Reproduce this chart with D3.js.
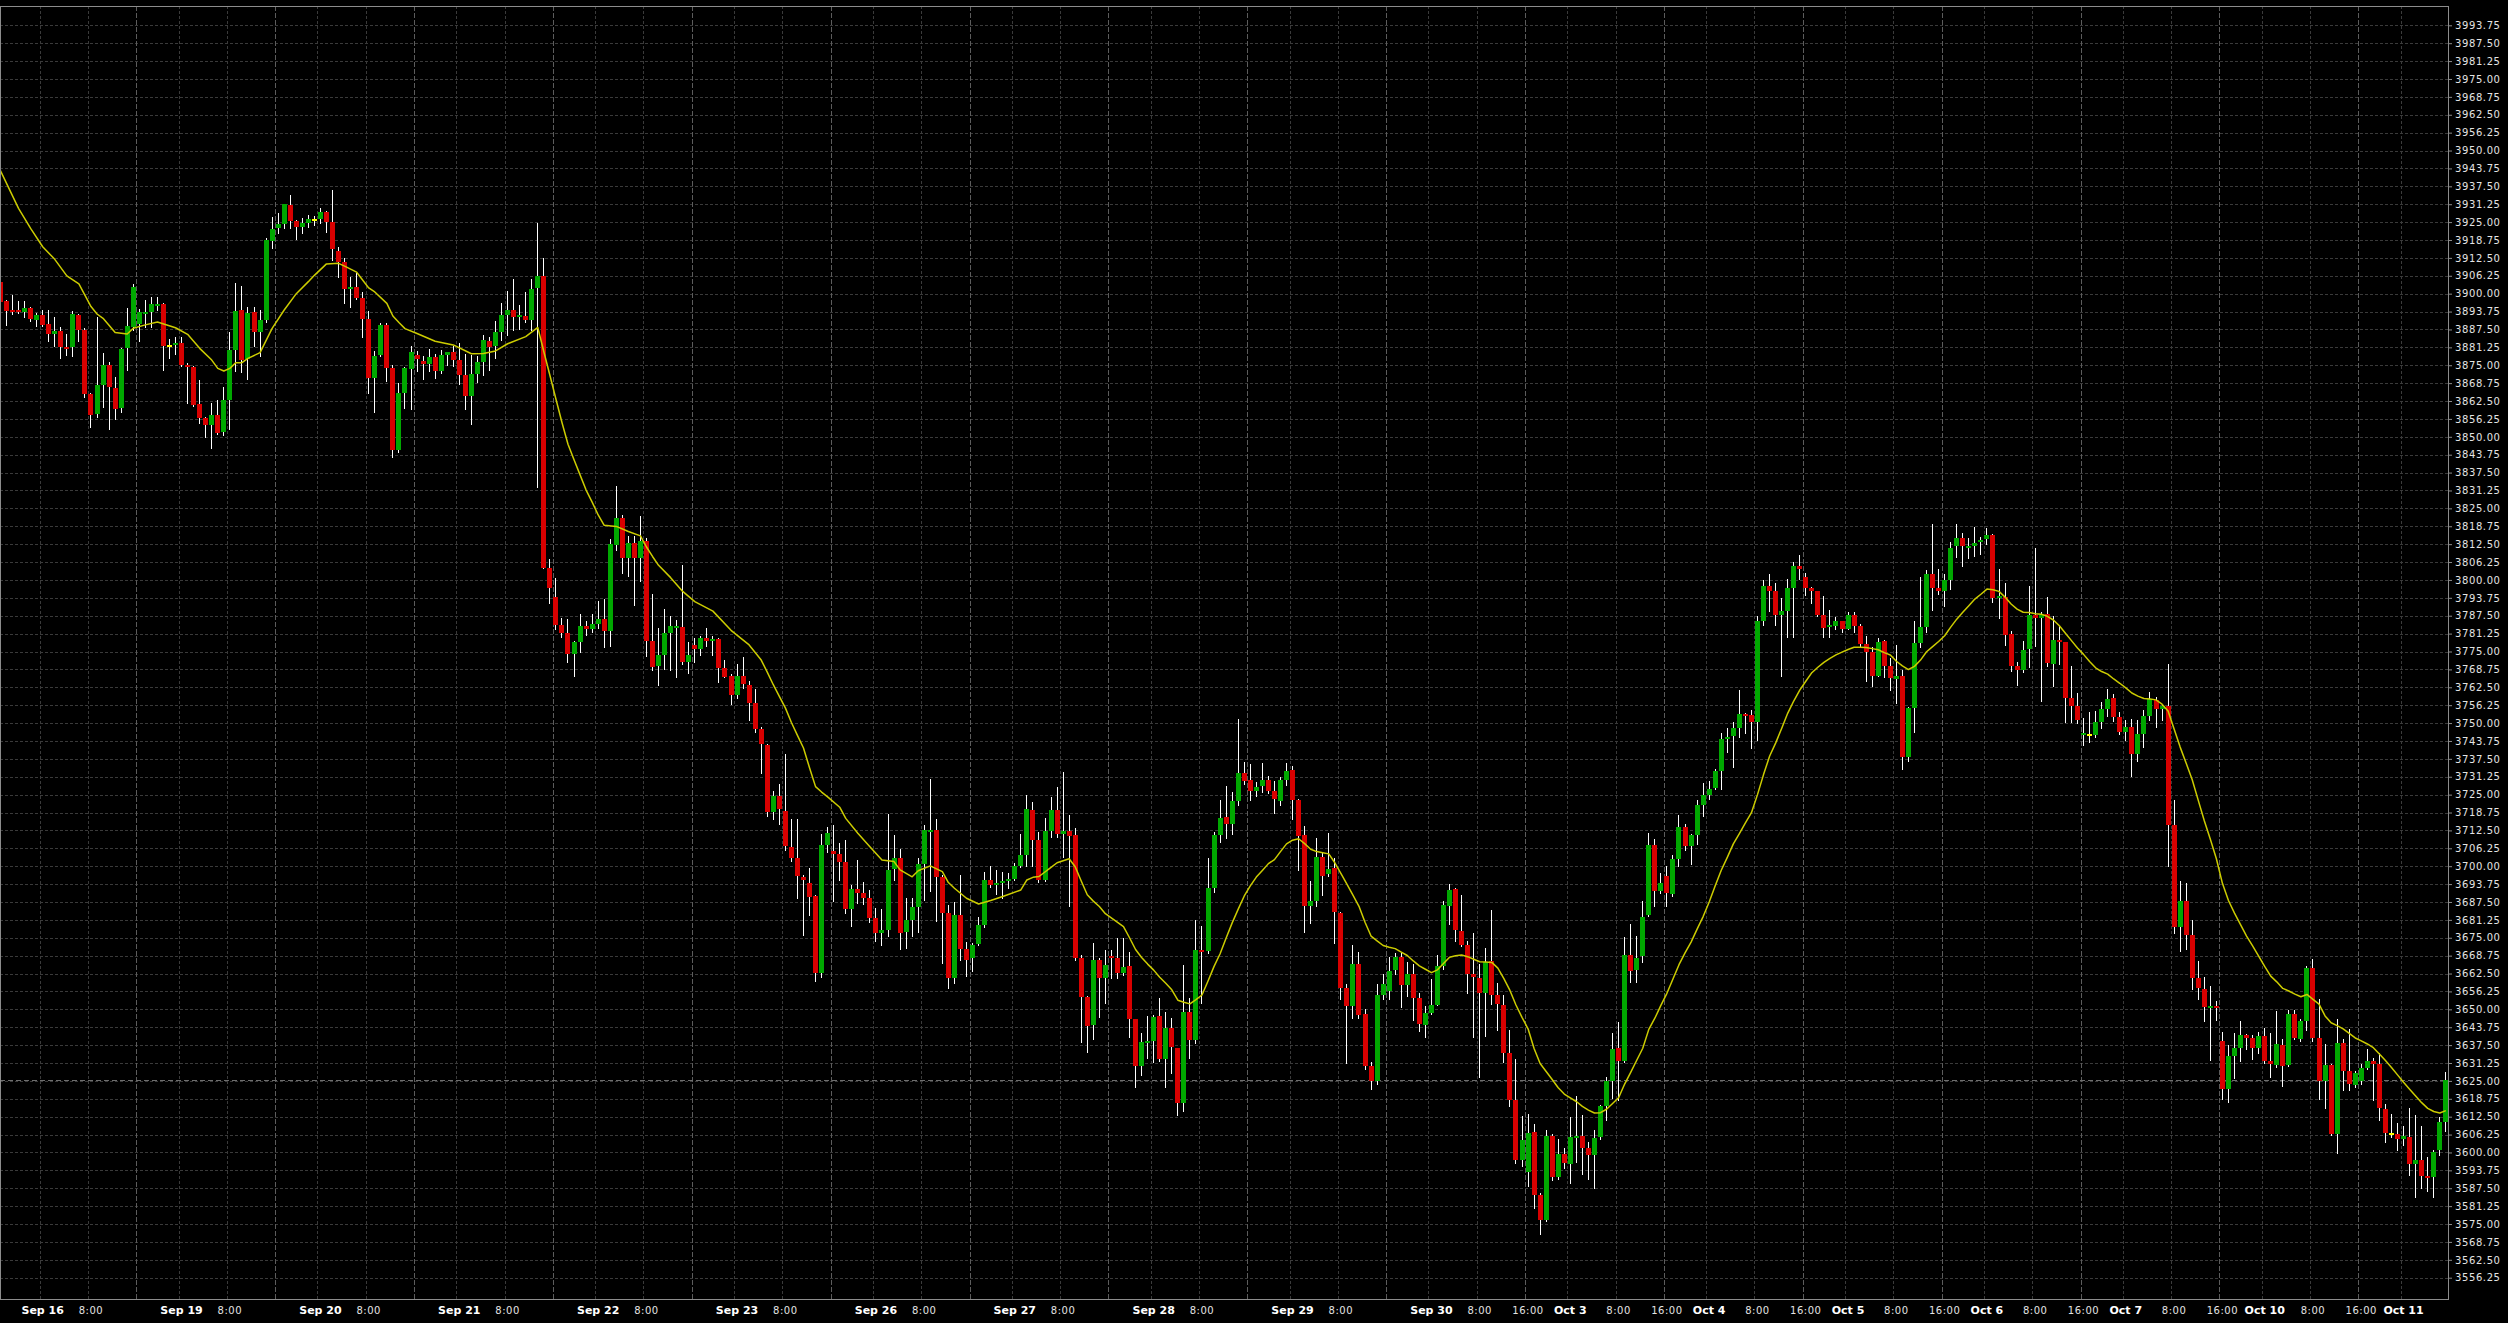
<!DOCTYPE html>
<html><head><meta charset="utf-8">
<script src="https://cdn.jsdelivr.net/npm/d3@7"></script>
<style>
html,body{margin:0;padding:0;background:#000;overflow:hidden}
svg{display:block}
</style></head>
<body>
<svg id="chart" width="2508" height="1323"></svg>
<script>
// ---------- DATA ----------
const days = ["Sep 16","Sep 19","Sep 20","Sep 21","Sep 22","Sep 23","Sep 26","Sep 27","Sep 28","Sep 29","Sep 30","Oct 3","Oct 4","Oct 5","Oct 6","Oct 7","Oct 10","Oct 11"];
const show1600 = [0,0,0,0,0,0,0,0,0,0,1,1,1,1,1,1,1,0];
const barsPerDay = 23;
const timeLabels = ["8:00","16:00"];
const yTickStart = 3556.25, yTickEnd = 3993.75, yTickStep = 6.25;

const open = [
3904.1,3897.4,3894.3,3894.3,3893.6,3895.0,3890.9,3892.6,3889.5,3886.0,
3887.0,3881.4,3881.4,3892.6,3887.3,3864.9,3858.1,3868.1,3875.1,3867.0,
3860.2,3881.1,3888.5,3889.5,3892.9,3893.6,3895.8,3896.5,3881.7,3882.2,
3882.9,3875.1,3874.4,3861.5,3856.7,3854.1,3857.6,3851.8,3862.9,3880.3,
3894.3,3877.2,3893.6,3886.7,3890.8,3918.5,3922.9,3924.3,3931.0,3925.4,
3923.4,3924.8,3925.7,3926.1,3928.5,3925.0,3914.9,3911.2,3901.5,3902.4,
3898.6,3891.0,3870.7,3878.6,3889.1,3873.9,3845.4,3865.4,3873.8,3878.5,
3876.4,3875.5,3877.8,3872.9,3878.7,3879.6,3876.8,3871.6,3864.4,3872.0,
3876.0,3883.4,3881.7,3886.6,3892.6,3894.3,3891.9,3892.2,3890.8,3901.9,
3906.3,3804.2,3794.0,3784.3,3781.4,3774.0,3778.4,3784.0,3782.8,3784.5,
3786.3,3782.2,3812.2,3821.7,3807.6,3813.0,3807.6,3813.6,3778.5,3770.1,
3773.8,3781.4,3783.5,3783.5,3771.5,3777.3,3775.7,3779.6,3778.7,3779.4,
3769.4,3766.4,3759.9,3766.4,3763.4,3757.1,3747.9,3742.3,3719.1,3724.5,
3719.4,3706.7,3703.0,3696.3,3694.2,3689.7,3662.6,3707.4,3705.3,3704.4,
3701.6,3685.1,3692.0,3690.5,3689.0,3682.0,3676.8,3677.7,3699.0,3703.0,
3677.1,3681.2,3685.9,3700.8,3712.1,3712.7,3696.4,3683.8,3661.1,3683.0,
3671.1,3668.1,3672.8,3679.5,3695.2,3693.4,3694.3,3694.9,3695.5,3699.9,
3703.9,3719.6,3709.2,3695.2,3712.3,3719.6,3711.1,3712.4,3710.9,3667.8,
3654.4,3644.5,3667.2,3661.1,3668.6,3667.8,3662.6,3665.1,3646.5,3630.2,
3638.4,3639.1,3647.7,3632.7,3643.4,3636.4,3617.4,3649.2,3639.3,3670.7,
3670.5,3692.3,3710.9,3717.2,3714.8,3722.8,3732.6,3730.0,3726.4,3728.0,
3730.0,3726.3,3722.9,3730.2,3733.5,3723.2,3710.8,3686.1,3687.7,3703.1,
3697.1,3699.5,3683.8,3657.6,3651.2,3666.0,3648.2,3630.3,3624.8,3654.9,
3656.4,3663.6,3668.4,3658.5,3662.4,3654.0,3644.7,3648.6,3651.6,3665.1,
3686.1,3691.9,3677.2,3672.4,3662.4,3660.9,3655.8,3667.0,3654.9,3651.6,
3634.8,3618.3,3597.5,3593.3,3607.1,3585.2,3576.4,3605.6,3591.5,3599.5,
3595.9,3605.3,3605.9,3601.4,3599.0,3605.5,3616.1,3625.1,3636.6,3631.9,
3669.1,3663.7,3668.8,3682.9,3707.4,3691.5,3696.5,3690.2,3702.4,3713.6,
3707.1,3711.0,3721.4,3725.0,3727.3,3733.1,3744.5,3745.4,3748.4,3753.1,
3752.8,3750.4,3785.8,3798.0,3796.0,3787.7,3789.3,3797.2,3804.9,3801.0,
3797.2,3796.0,3787.9,3783.5,3784.0,3785.5,3783.0,3787.9,3784.0,3777.6,
3774.8,3766.6,3778.5,3769.8,3765.4,3766.6,3738.3,3755.4,3778.0,3783.5,
3802.2,3797.2,3796.0,3799.9,3811.9,3814.7,3811.3,3812.0,3813.1,3814.4,
3815.6,3793.6,3794.1,3781.2,3769.8,3768.7,3775.9,3787.8,3786.7,3788.2,
3770.6,3778.9,3778.2,3758.6,3756.1,3746.0,3746.0,3746.0,3750.3,3755.0,
3758.6,3752.2,3746.9,3748.8,3739.1,3746.1,3752.4,3758.1,3755.0,3755.8,
3714.4,3678.6,3687.8,3675.9,3661.1,3657.2,3650.7,3651.3,3638.8,3622.1,
3633.8,3636.4,3641.1,3639.9,3636.4,3640.7,3631.8,3630.7,3637.7,3630.5,
3648.2,3639.6,3645.8,3664.5,3640.0,3625.1,3630.7,3606.5,3638.3,3628.3,
3623.5,3625.1,3629.4,3631.8,3631.0,3615.1,3606.4,3606.6,3604.8,3605.3,
3595.9,3597.5,3591.7,3591.5,3600.7,3610.7];

const high = [
3905.0,3897.8,3899.5,3897.6,3897.6,3895.5,3893.1,3894.3,3894.3,3892.0,
3888.5,3885.8,3894.1,3892.9,3887.9,3865.2,3892.0,3879.4,3876.3,3871.0,
3880.9,3895.1,3903.4,3894.7,3897.8,3899.0,3899.0,3896.8,3884.0,3884.8,
3885.0,3875.7,3874.6,3869.8,3856.8,3861.7,3862.9,3867.5,3886.7,3903.6,
3902.7,3895.2,3895.2,3894.3,3919.5,3926.9,3928.3,3931.3,3934.5,3925.6,
3926.3,3927.5,3927.3,3929.8,3929.0,3936.2,3916.4,3912.6,3905.9,3907.1,
3900.7,3893.9,3879.8,3889.6,3889.6,3875.1,3868.7,3874.5,3881.7,3879.9,
3878.2,3880.8,3879.0,3880.3,3879.6,3881.7,3882.9,3879.0,3878.5,3878.2,
3885.5,3884.7,3890.5,3896.6,3901.0,3905.1,3896.1,3900.5,3905.1,3924.8,
3912.5,3807.4,3800.7,3786.6,3786.3,3778.7,3788.0,3785.7,3788.0,3792.8,
3793.3,3814.3,3832.9,3822.7,3815.5,3815.5,3822.2,3814.8,3795.1,3783.1,
3789.8,3787.3,3785.9,3805.1,3778.2,3779.6,3780.3,3783.1,3780.3,3779.6,
3772.2,3767.3,3770.8,3773.1,3764.6,3762.0,3748.8,3742.6,3726.4,3728.6,
3739.1,3716.6,3716.6,3696.9,3699.5,3690.0,3711.1,3713.6,3714.4,3708.0,
3709.2,3693.4,3702.2,3694.6,3691.7,3685.3,3684.9,3718.2,3710.9,3705.9,
3689.0,3688.8,3702.8,3714.4,3730.5,3716.5,3696.9,3686.4,3687.6,3696.9,
3673.6,3673.3,3682.4,3697.8,3700.1,3698.7,3697.8,3697.5,3701.0,3711.3,
3724.9,3722.3,3712.1,3716.7,3724.1,3727.6,3732.8,3717.9,3713.2,3669.0,
3654.7,3673.1,3667.8,3670.7,3670.7,3674.8,3674.8,3669.9,3646.7,3641.9,
3647.7,3647.9,3654.1,3649.2,3646.9,3636.6,3665.5,3653.8,3681.2,3679.1,
3702.8,3712.0,3723.2,3728.0,3725.8,3751.4,3736.4,3735.8,3729.4,3736.1,
3731.6,3729.8,3731.3,3736.1,3735.0,3723.5,3714.2,3694.9,3709.9,3704.5,
3711.7,3702.7,3684.1,3658.8,3672.4,3669.9,3650.0,3631.5,3658.8,3662.4,
3668.4,3669.7,3669.7,3666.6,3666.0,3655.8,3651.0,3660.6,3669.0,3687.7,
3693.7,3692.5,3690.1,3673.9,3676.8,3666.0,3671.5,3684.7,3659.2,3654.9,
3642.8,3632.7,3612.7,3613.5,3609.8,3585.8,3607.9,3606.5,3604.7,3601.7,
3612.3,3619.7,3613.1,3603.8,3607.9,3616.7,3626.3,3641.6,3645.6,3675.1,
3679.8,3675.5,3688.0,3711.7,3709.4,3697.7,3700.0,3703.9,3718.0,3714.9,
3711.2,3723.0,3729.2,3729.7,3733.9,3746.4,3748.4,3750.3,3761.7,3753.5,
3754.6,3787.4,3799.9,3802.2,3799.1,3793.6,3800.3,3806.1,3808.8,3802.5,
3797.5,3796.2,3794.4,3789.4,3786.9,3785.8,3788.7,3788.7,3784.7,3780.4,
3776.5,3779.6,3779.1,3772.6,3777.3,3768.7,3755.6,3785.8,3801.0,3803.5,
3819.7,3803.8,3802.2,3813.1,3819.4,3816.3,3814.7,3818.6,3815.0,3818.1,
3815.9,3803.8,3798.8,3782.0,3771.3,3778.8,3797.9,3811.2,3788.9,3794.0,
3787.3,3783.9,3778.4,3770.1,3760.5,3751.9,3753.9,3754.2,3757.3,3762.0,
3760.2,3753.9,3751.1,3751.4,3751.1,3754.7,3760.8,3759.2,3756.6,3770.6,
3723.0,3694.9,3694.2,3681.2,3666.9,3661.4,3658.3,3652.8,3642.2,3637.5,
3641.6,3645.8,3641.5,3641.1,3642.2,3643.5,3641.9,3649.4,3639.6,3649.7,
3649.7,3646.6,3665.3,3667.6,3653.6,3638.0,3631.0,3646.6,3639.6,3643.2,
3628.6,3631.0,3636.0,3632.9,3634.9,3616.9,3613.5,3610.4,3609.2,3615.4,
3613.0,3609.2,3598.5,3600.9,3612.3,3628.2];

const low = [
3887.1,3889.1,3892.9,3893.1,3892.0,3890.6,3888.8,3888.7,3883.6,3881.8,
3877.7,3878.7,3878.4,3883.6,3864.0,3853.3,3857.0,3860.5,3852.9,3856.3,
3858.5,3873.4,3887.3,3883.6,3888.5,3888.5,3894.3,3873.4,3877.7,3878.8,
3874.9,3861.7,3860.8,3854.7,3850.1,3846.0,3851.0,3850.6,3852.9,3873.1,
3872.8,3870.3,3881.7,3878.4,3890.0,3916.1,3921.3,3922.8,3923.1,3919.0,
3921.1,3923.2,3924.1,3924.6,3921.7,3911.8,3905.9,3896.9,3895.2,3898.0,
3885.0,3865.4,3858.8,3878.2,3869.6,3843.1,3844.8,3859.9,3859.7,3872.9,
3870.2,3872.9,3870.6,3872.4,3875.0,3874.6,3868.5,3859.7,3854.4,3869.0,
3871.5,3873.2,3877.6,3883.8,3885.5,3887.3,3887.8,3890.1,3887.3,3832.4,
3804.2,3791.9,3782.8,3780.0,3771.5,3766.4,3775.0,3780.7,3781.7,3783.1,
3776.4,3776.9,3810.4,3802.3,3801.4,3791.2,3799.8,3773.3,3768.7,3763.2,
3769.0,3768.7,3766.2,3770.8,3767.6,3771.5,3773.8,3776.8,3773.8,3764.5,
3766.0,3756.7,3758.8,3762.4,3751.1,3747.0,3732.4,3717.6,3716.6,3714.8,
3705.7,3701.8,3688.9,3675.8,3682.8,3660.0,3661.4,3705.1,3688.0,3695.2,
3683.5,3679.2,3687.0,3686.7,3680.6,3673.9,3672.3,3675.7,3695.2,3671.1,
3671.3,3675.7,3677.1,3688.2,3691.3,3681.0,3666.3,3657.3,3659.1,3667.2,
3661.8,3663.5,3672.3,3678.9,3692.9,3690.3,3688.8,3692.3,3695.2,3699.7,
3699.9,3699.9,3694.6,3695.0,3710.3,3710.3,3703.3,3686.1,3667.2,3638.7,
3635.2,3639.6,3647.4,3652.1,3660.8,3660.8,3662.0,3640.2,3623.0,3627.1,
3632.9,3631.7,3632.1,3623.0,3627.9,3613.1,3614.6,3632.9,3638.4,3652.1,
3669.6,3691.0,3708.5,3709.9,3711.4,3721.4,3728.6,3723.2,3724.6,3725.8,
3725.6,3718.6,3721.4,3728.3,3716.6,3698.8,3677.1,3680.1,3686.1,3690.1,
3696.7,3673.3,3653.6,3631.1,3646.8,3646.8,3629.3,3622.1,3623.9,3653.6,
3653.6,3662.4,3650.8,3654.6,3646.2,3642.6,3640.2,3648.4,3651.4,3664.2,
3679.9,3673.8,3672.2,3655.6,3640.4,3626.3,3640.8,3651.9,3642.8,3631.5,
3616.1,3596.3,3595.1,3588.4,3580.6,3571.6,3576.2,3590.3,3590.6,3594.7,
3589.4,3596.8,3592.6,3590.8,3587.5,3604.7,3611.3,3619.1,3618.5,3631.7,
3659.5,3659.5,3666.5,3682.7,3686.0,3690.7,3686.0,3689.6,3700.0,3705.5,
3700.8,3707.8,3717.7,3723.5,3726.9,3726.9,3739.8,3734.8,3745.3,3746.4,
3741.4,3744.2,3784.3,3789.0,3784.3,3766.3,3780.1,3780.1,3800.2,3794.7,
3792.1,3787.4,3780.1,3780.1,3782.7,3781.9,3782.7,3781.9,3776.5,3764.8,
3762.9,3766.3,3766.0,3761.7,3757.0,3733.9,3736.7,3746.8,3776.5,3781.9,
3789.4,3795.2,3791.0,3796.8,3808.1,3805.0,3807.7,3808.5,3809.2,3812.4,
3792.4,3786.6,3777.3,3768.2,3763.2,3767.9,3769.5,3776.8,3757.7,3769.8,
3762.8,3770.6,3750.3,3750.3,3749.9,3742.5,3743.3,3745.2,3748.3,3752.4,
3750.8,3746.1,3744.1,3731.6,3736.8,3741.8,3751.1,3748.8,3751.1,3699.9,
3676.5,3670.3,3671.2,3657.2,3653.6,3645.8,3632.2,3646.3,3618.8,3617.7,
3626.0,3631.8,3636.0,3632.6,3634.9,3631.3,3626.3,3629.8,3623.2,3630.3,
3639.7,3638.8,3642.7,3638.8,3618.8,3615.7,3606.0,3599.8,3621.9,3621.9,
3622.9,3624.0,3629.2,3618.2,3611.5,3603.7,3605.3,3601.0,3602.6,3592.3,
3584.5,3587.6,3586.5,3584.5,3599.0,3607.6];

const close = [
3897.2,3894.0,3893.7,3893.7,3895.0,3891.3,3892.6,3889.1,3886.0,3887.0,
3881.4,3880.8,3892.9,3887.3,3864.9,3857.6,3868.1,3875.1,3867.5,3859.8,
3880.7,3888.7,3902.3,3893.6,3893.6,3896.5,3896.5,3881.7,3881.7,3882.9,
3875.1,3874.4,3861.1,3856.7,3854.1,3857.6,3851.3,3862.9,3880.3,3893.8,
3876.8,3893.3,3886.7,3890.8,3918.8,3922.6,3924.3,3931.3,3925.4,3923.4,
3924.8,3926.1,3925.7,3928.5,3925.0,3915.5,3911.2,3901.5,3902.4,3898.6,
3891.0,3870.7,3878.2,3889.1,3873.9,3845.4,3865.2,3873.9,3879.6,3877.1,
3875.5,3877.8,3872.9,3878.5,3879.6,3876.8,3871.6,3864.4,3872.0,3876.0,
3883.8,3881.3,3886.6,3892.6,3894.3,3891.9,3892.6,3890.8,3901.6,3906.3,
3804.2,3797.2,3784.3,3781.4,3774.3,3778.4,3784.0,3782.8,3784.5,3786.3,
3782.2,3812.5,3821.7,3807.6,3813.0,3807.6,3813.6,3778.5,3769.7,3773.8,
3781.4,3783.8,3783.9,3771.5,3773.8,3775.7,3779.6,3778.7,3779.4,3769.4,
3766.2,3759.9,3766.4,3763.8,3757.1,3747.9,3742.6,3719.1,3724.5,3720.1,
3707.1,3703.0,3696.5,3695.1,3689.3,3662.8,3707.4,3711.5,3704.4,3701.6,
3685.1,3692.0,3690.5,3689.0,3682.0,3676.8,3677.7,3698.7,3703.0,3676.8,
3681.2,3685.9,3700.8,3712.7,3712.7,3696.4,3683.8,3661.1,3683.0,3671.1,
3667.2,3672.5,3679.5,3695.2,3693.4,3694.3,3694.9,3695.5,3699.9,3703.9,
3720.0,3709.2,3695.2,3712.3,3719.6,3711.3,3712.4,3710.7,3667.8,3654.4,
3644.3,3667.2,3661.1,3665.5,3667.8,3662.6,3664.7,3646.5,3630.2,3638.7,
3639.1,3647.4,3632.7,3643.4,3636.7,3617.4,3649.1,3639.3,3670.7,3670.0,
3692.3,3710.9,3716.8,3714.8,3722.8,3732.6,3729.8,3726.4,3727.6,3730.0,
3726.1,3723.3,3730.0,3733.2,3723.2,3710.6,3686.1,3687.7,3703.1,3696.7,
3699.1,3684.1,3657.6,3651.2,3666.0,3648.0,3630.3,3624.8,3654.9,3658.8,
3663.3,3668.4,3658.5,3662.4,3654.0,3645.0,3648.6,3651.4,3665.1,3686.5,
3691.7,3677.7,3672.4,3662.4,3661.2,3655.8,3666.6,3654.9,3651.9,3634.8,
3618.3,3597.5,3604.3,3606.7,3585.2,3576.4,3605.6,3591.5,3599.5,3596.3,
3605.3,3605.9,3601.4,3599.0,3604.9,3616.1,3625.1,3636.2,3632.0,3669.1,
3663.4,3668.1,3682.1,3707.4,3691.5,3694.3,3690.7,3702.4,3713.6,3707.1,
3711.0,3721.4,3725.0,3726.9,3733.1,3744.5,3745.1,3748.2,3753.1,3752.3,
3750.4,3785.8,3798.0,3796.0,3787.7,3789.3,3797.2,3804.9,3803.8,3797.2,
3796.3,3787.9,3783.2,3784.3,3785.8,3783.0,3787.9,3784.0,3777.6,3774.8,
3766.6,3778.3,3769.8,3765.6,3766.6,3738.3,3755.4,3778.0,3783.5,3802.2,
3797.2,3796.0,3799.9,3811.1,3814.7,3812.0,3812.0,3812.8,3813.9,3815.6,
3793.6,3794.4,3780.8,3769.8,3768.7,3775.4,3787.8,3786.7,3787.8,3770.9,
3778.9,3778.2,3758.6,3756.1,3751.1,3746.4,3746.0,3750.3,3755.0,3758.4,
3752.2,3746.9,3748.8,3739.1,3746.1,3752.4,3758.4,3755.0,3755.8,3714.4,
3678.6,3687.8,3675.9,3661.1,3657.5,3650.9,3651.3,3650.7,3622.1,3633.8,
3636.4,3641.1,3640.0,3636.4,3640.7,3631.8,3631.0,3638.0,3630.2,3648.2,
3639.9,3645.8,3664.5,3640.0,3625.1,3630.7,3606.5,3638.3,3628.3,3623.9,
3627.6,3629.4,3631.8,3631.0,3615.7,3606.8,3606.4,3604.8,3605.7,3595.9,
3597.5,3591.7,3591.2,3600.3,3610.7,3625.2];

// moving average line: [bar index, value]
const maLine = [
[0,3943.0],[3,3929.8],[5,3922.8],[7,3916.4],[9,3912.0],[11,3906.2],[13,3903.4],[15,3895.5],[16,3892.9],[17,3891.4],
[19,3886.4],[21,3885.9],[22,3887.9],[24,3889.1],[26,3890.1],[29,3888.1],[31,3885.8],[33,3880.9],[35,3876.8],[36,3873.9],
[37,3873.0],[38,3873.9],[39,3875.9],[40,3875.9],[41,3877.4],[43,3879.4],[45,3887.9],[47,3894.3],[49,3900.0],[51,3904.2],
[52,3906.4],[54,3910.4],[56,3910.6],[57,3909.6],[59,3907.5],[61,3902.0],[62,3900.6],[64,3896.6],[65,3892.2],[66,3889.9],
[67,3887.8],[69,3886.1],[72,3883.4],[75,3882.1],[78,3879.0],[80,3879.1],[82,3880.0],[84,3882.5],[87,3885.0],[89,3888.2],
[90,3879.7],[91,3871.5],[92,3863.2],[93,3855.0],[94,3847.4],[95,3842.0],[96,3836.7],[97,3831.4],[98,3827.2],[99,3822.7],
[100,3819.1],[102,3818.7],[104,3816.9],[106,3815.4],[107,3811.5],[108,3808.2],[109,3805.1],[111,3800.8],[113,3796.0],[115,3792.4],
[118,3789.1],[121,3782.4],[124,3777.3],[126,3772.0],[127,3767.8],[128,3763.4],[129,3759.3],[130,3755.3],[131,3750.2],[132,3745.7],
[133,3741.3],[134,3734.4],[135,3727.8],[136,3725.9],[137,3724.2],[139,3720.6],[140,3716.7],[142,3711.5],[144,3706.8],[146,3702.2],
[148,3701.6],[149,3698.7],[151,3696.3],[152,3698.4],[154,3700.1],[156,3698.1],[157,3694.3],[158,3692.3],[160,3688.8],[162,3686.8],
[164,3688.0],[166,3689.4],[169,3691.7],[170,3695.2],[171,3696.1],[172,3696.4],[174,3699.6],[175,3701.2],[177,3702.6],[178,3699.8],
[179,3694.8],[180,3690.0],[181,3687.8],[182,3685.9],[183,3683.4],[186,3678.9],[187,3675.0],[188,3670.9],[189,3668.1],[190,3665.8],
[191,3663.7],[192,3661.2],[193,3659.1],[194,3656.8],[195,3653.2],[196,3652.5],[197,3651.9],[198,3653.4],[199,3655.0],[200,3659.9],
[201,3665.0],[202,3669.4],[203,3674.9],[204,3680.2],[205,3685.0],[206,3689.6],[207,3693.1],[208,3696.2],[209,3698.5],[210,3700.9],
[211,3702.3],[212,3705.1],[213,3707.8],[214,3709.1],[215,3709.6],[216,3707.9],[217,3705.9],[218,3705.1],[219,3704.7],[220,3704.3],
[221,3701.2],[222,3697.5],[223,3693.7],[224,3689.9],[225,3686.0],[226,3680.4],[227,3675.6],[228,3673.9],[229,3672.3],[230,3671.7],
[231,3671.2],[232,3670.0],[233,3668.8],[234,3666.9],[235,3665.2],[236,3664.0],[237,3662.8],[238,3663.8],[239,3666.0],[240,3668.2],
[241,3668.7],[242,3669.0],[243,3668.4],[244,3667.5],[245,3666.6],[246,3666.5],[247,3666.4],[248,3664.4],[249,3660.7],[250,3656.6],
[251,3651.5],[252,3647.2],[253,3643.2],[254,3636.3],[255,3631.1],[256,3628.3],[257,3625.5],[258,3622.6],[259,3620.4],[260,3619.1],
[261,3617.8],[262,3616.1],[263,3614.8],[264,3613.8],[265,3613.9],[266,3615.1],[267,3617.1],[268,3619.1],[269,3623.9],[270,3628.0],
[271,3632.2],[272,3636.4],[273,3643.0],[274,3646.9],[275,3651.4],[276,3655.6],[277,3660.6],[278,3665.6],[279,3669.7],[280,3673.5],
[281,3678.0],[282,3682.4],[283,3687.5],[284,3693.2],[285,3698.6],[286,3703.1],[287,3707.8],[288,3711.4],[289,3715.1],[290,3718.7],
[291,3725.0],[292,3732.0],[293,3738.4],[294,3743.0],[295,3748.1],[296,3753.4],[297,3757.7],[298,3761.5],[299,3764.6],[300,3767.6],
[301,3769.5],[302,3771.2],[303,3772.6],[304,3773.8],[305,3774.8],[306,3775.7],[307,3776.5],[308,3776.5],[309,3776.4],[310,3776.0],
[311,3775.6],[312,3774.6],[313,3773.8],[314,3771.6],[315,3770.0],[316,3768.7],[317,3769.8],[318,3772.0],[319,3774.9],[320,3776.7],
[321,3778.5],[322,3780.5],[323,3783.5],[324,3786.3],[325,3788.7],[326,3791.0],[327,3793.3],[328,3795.0],[329,3796.8],[330,3796.6],
[331,3796.0],[332,3794.0],[333,3791.6],[334,3789.8],[335,3788.7],[336,3788.6],[337,3788.2],[338,3788.0],[339,3787.3],[340,3786.0],
[341,3784.0],[342,3781.4],[343,3778.8],[344,3776.2],[345,3774.0],[346,3771.5],[347,3769.3],[348,3768.0],[349,3767.1],[350,3765.4],
[351,3763.9],[352,3762.3],[353,3760.5],[354,3759.4],[355,3758.6],[356,3758.4],[357,3758.1],[358,3756.6],[359,3754.2],[360,3747.9],
[361,3741.6],[362,3736.0],[363,3730.2],[364,3723.0],[365,3715.9],[366,3709.4],[367,3702.6],[368,3694.0],[369,3688.0],[370,3683.6],
[371,3679.6],[372,3675.6],[373,3672.2],[374,3668.6],[375,3665.0],[376,3661.6],[377,3659.6],[378,3657.3],[379,3656.4],[380,3655.3],
[381,3654.4],[382,3655.2],[383,3653.5],[384,3651.8],[385,3647.7],[386,3645.3],[387,3644.3],[388,3643.2],[389,3641.6],[390,3640.0],
[391,3639.0],[392,3637.9],[393,3636.6],[394,3634.4],[395,3632.1],[396,3629.7],[397,3627.1],[398,3624.5],[399,3622.1],[400,3619.7],
[401,3617.4],[402,3615.4],[403,3614.3],[404,3613.8],[405,3614.6]];

// ---------- LAYOUT ----------
const W = 2508, H = 1323;
const PL = 0, PR = 2448, PT = 6, PB = 1299;
const nBars = open.length;
const dayPx = 138.875;
const x = d3.scaleLinear().domain([0, nBars]).range([-2.6, -2.6 + nBars * dayPx / barsPerDay]);
const y = d3.scaleLinear().domain([yTickStart, yTickEnd]).range([1277.7, 25.3]);
const yTicks = d3.range(yTickStart, yTickEnd + 0.001, yTickStep);

const COL_UP = "#00a800", COL_DN = "#d80000", COL_DOJI = "#ffff00", COL_WICK = "#ffffff";

const svg = d3.select("#chart");
svg.append("rect").attr("width", W).attr("height", H).attr("fill", "#000");
svg.append("defs").append("clipPath").attr("id", "plotClip")
  .append("rect").attr("x", PL).attr("y", PT).attr("width", PR - PL).attr("height", PB - PT);

const gPlot = svg.append("g").attr("clip-path", "url(#plotClip)");

// horizontal grid
gPlot.append("g").selectAll("line").data(yTicks).join("line")
  .attr("x1", PL).attr("x2", PR)
  .attr("y1", d => Math.round(y(d)) + 0.5).attr("y2", d => Math.round(y(d)) + 0.5)
  .attr("stroke", "#3a3a3a").attr("stroke-dasharray", "3,2");

// vertical grid (0:00 and 8:00) and day separators
const vGrid = [], vSep = [];
days.forEach((d, k) => {
  const s = k * barsPerDay;
  if (k > 0) vSep.push(s);
  vGrid.push(s + 7);
  if (s + 15 < nBars) vGrid.push(s + 15);
});
gPlot.append("g").selectAll("line").data(vGrid).join("line")
  .attr("x1", d => Math.round(x(d)) + 0.5).attr("x2", d => Math.round(x(d)) + 0.5)
  .attr("y1", PT).attr("y2", PB)
  .attr("stroke", "#3a3a3a").attr("stroke-dasharray", "3,2");
gPlot.append("g").selectAll("line").data(vSep).join("line")
  .attr("x1", d => Math.round(x(d)) + 0.5).attr("x2", d => Math.round(x(d)) + 0.5)
  .attr("y1", PT).attr("y2", PB)
  .attr("stroke", "#5c5c5c").attr("stroke-dasharray", "5,2");

// current price line
const lastClose = close[nBars - 1];
gPlot.append("line")
  .attr("x1", PL).attr("x2", PR)
  .attr("y1", Math.round(y(lastClose)) + 0.5).attr("y2", Math.round(y(lastClose)) + 0.5)
  .attr("stroke", "#6e6e6e").attr("stroke-dasharray", "5,3");

// candles
const bars = d3.range(nBars).map(i => ({i, o: open[i], h: high[i], l: low[i], c: close[i]}));
const bodyLeft = d => Math.round(x(d.i + 0.5) - 2.5);
const gC = gPlot.append("g").attr("shape-rendering", "crispEdges");
gC.selectAll("line.wick").data(bars).join("line").attr("class", "wick")
  .attr("x1", d => bodyLeft(d) + 2.5).attr("x2", d => bodyLeft(d) + 2.5)
  .attr("y1", d => Math.round(y(Math.max(d.h, d.o, d.c))))
  .attr("y2", d => Math.round(y(Math.min(d.l, d.o, d.c))) + 1)
  .attr("stroke", COL_WICK).attr("stroke-width", 1);
gC.selectAll("rect.body").data(bars).join("rect").attr("class", "body")
  .attr("x", d => bodyLeft(d))
  .attr("width", 5)
  .attr("y", d => d.o === d.c ? Math.round(y(d.o)) - 1 : Math.round(y(Math.max(d.o, d.c))))
  .attr("height", d => d.o === d.c ? 2 : Math.max(2, Math.round(y(Math.min(d.o, d.c))) - Math.round(y(Math.max(d.o, d.c)))))
  .attr("fill", d => d.c > d.o ? COL_UP : (d.c < d.o ? COL_DN : COL_DOJI));

// moving average
gPlot.append("path").datum(maLine)
  .attr("d", d3.line().x(d => x(d[0] + 0.5)).y(d => y(d[1])))
  .attr("fill", "none").attr("stroke", "#cccc00").attr("stroke-width", 1.5)
  .attr("stroke-linejoin", "round");

// frame
const frame = svg.append("g").attr("stroke", "#8c8c8c").attr("shape-rendering", "crispEdges");
frame.append("line").attr("x1", 0).attr("x2", PR + 0.5).attr("y1", PT + 0.5).attr("y2", PT + 0.5);
frame.append("line").attr("x1", 0).attr("x2", PR + 0.5).attr("y1", PB + 0.5).attr("y2", PB + 0.5);
frame.append("line").attr("x1", PR + 0.5).attr("x2", PR + 0.5).attr("y1", PT).attr("y2", PB + 1);
frame.append("line").attr("x1", 0.5).attr("x2", 0.5).attr("y1", PT).attr("y2", PB + 1);

// y axis
const yAxis = d3.axisRight(y).tickValues(yTicks).tickFormat(d3.format(".2f")).tickSize(4).tickPadding(3);
const gy = svg.append("g").attr("transform", `translate(${PR},0)`).call(yAxis)
  .attr("font-family", "'DejaVu Sans', sans-serif").attr("font-size", 10);
gy.select(".domain").remove();
gy.selectAll(".tick line").attr("stroke", "#8c8c8c");
gy.selectAll(".tick text").attr("fill", "#e4e4e4").attr("letter-spacing", "0.6");

// x axis
const xTickVals = [], xTickInfo = new Map();
days.forEach((d, k) => {
  const s = k * barsPerDay;
  xTickVals.push(s + 7); xTickInfo.set(s + 7, {t: d, bold: true});
  if (s + 15 < nBars) { xTickVals.push(s + 15); xTickInfo.set(s + 15, {t: timeLabels[0], bold: false}); }
  if (show1600[k]) { xTickVals.push(s + 23); xTickInfo.set(s + 23, {t: timeLabels[1], bold: false}); }
});
const xAxis = d3.axisBottom(x).tickValues(xTickVals).tickFormat(v => xTickInfo.get(v).t).tickSize(0).tickPadding(0);
const gx = svg.append("g").attr("transform", `translate(0,${PB})`).call(xAxis)
  .attr("font-family", "'DejaVu Sans', sans-serif");
gx.select(".domain").remove();
gx.selectAll(".tick text")
  .attr("y", 15).attr("dy", 0).attr("dx", 2.5)
  .attr("fill", d => xTickInfo.get(d).bold ? "#ffffff" : "#e4e4e4")
  .attr("font-weight", d => xTickInfo.get(d).bold ? "bold" : "normal")
  .attr("font-size", d => xTickInfo.get(d).bold ? 11 : 10)
  .attr("letter-spacing", d => xTickInfo.get(d).bold ? "0" : "0.5");
</script>
</body></html>
